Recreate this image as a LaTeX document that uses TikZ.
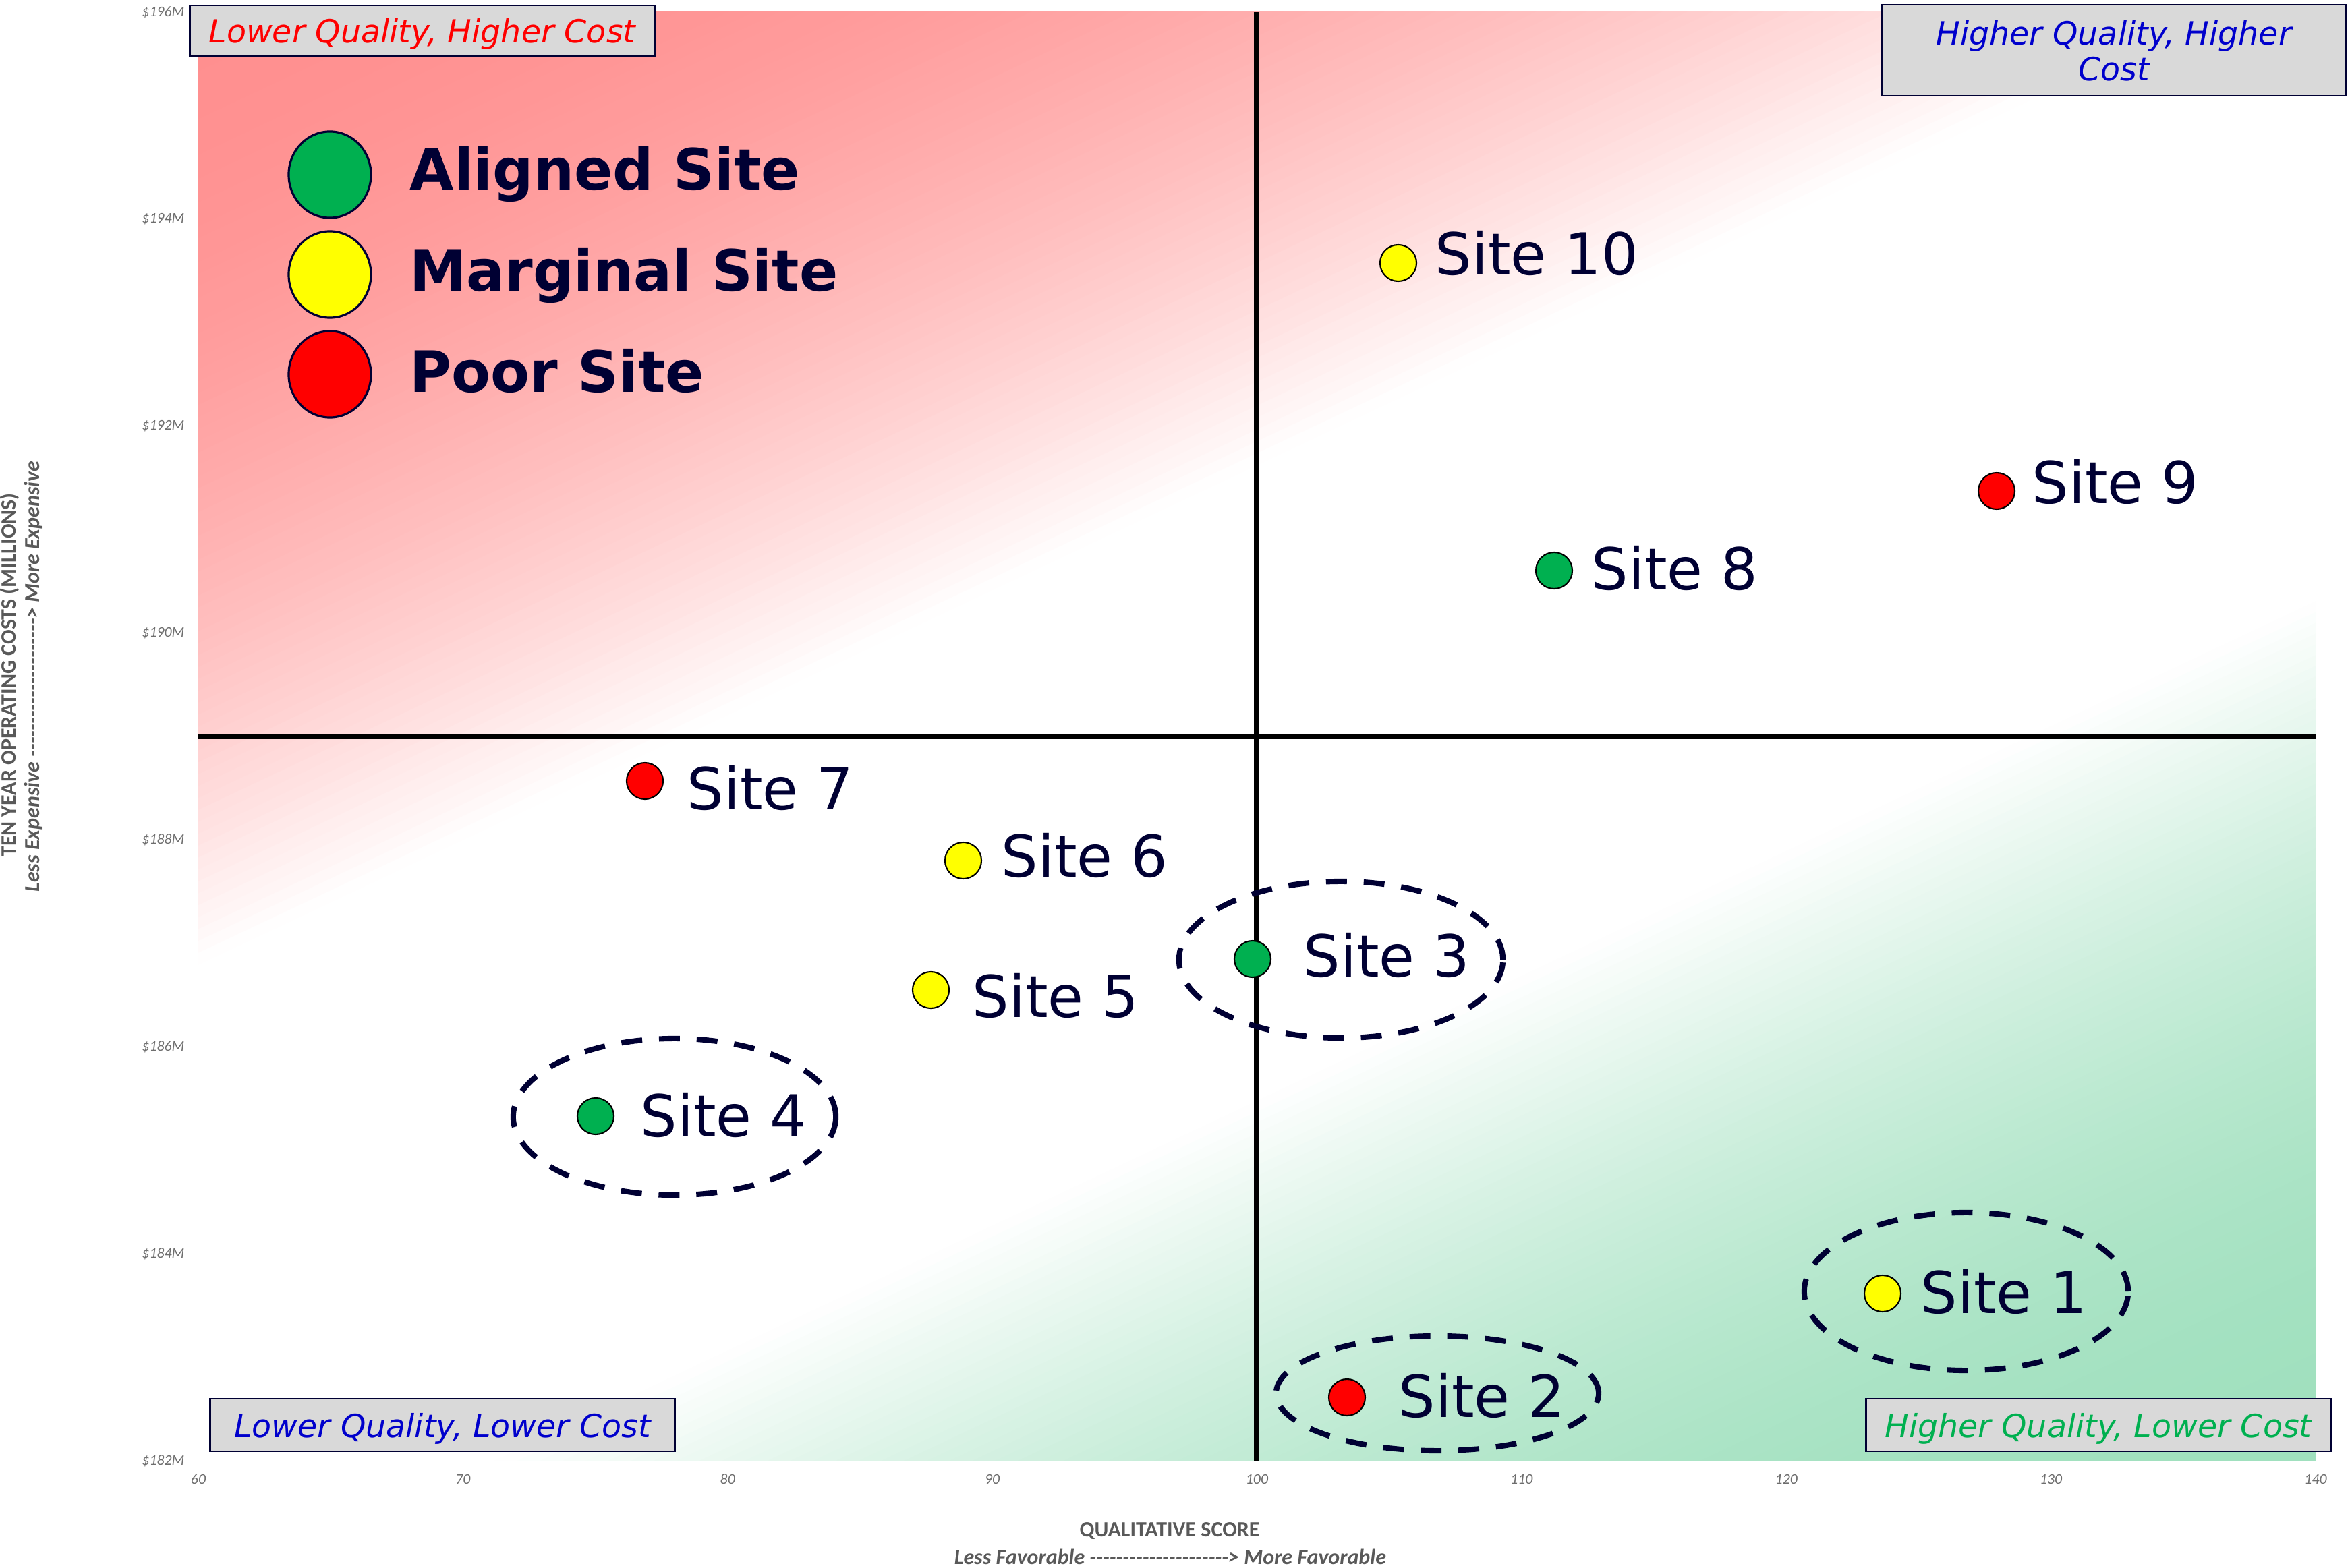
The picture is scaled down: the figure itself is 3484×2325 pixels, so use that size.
\documentclass[tikz,border=0pt]{standalone}
\usepackage{fontspec}
\usetikzlibrary{shapes.geometric}
\newfontfamily\vfont{DejaVu Sans}
\newfontfamily\cfont{Carlito}
\definecolor{navy}{HTML}{000033}
\definecolor{redc}{RGB}{255,143,143}
\definecolor{greenc}{RGB}{160,224,190}
\definecolor{dotgreen}{HTML}{00B050}
\definecolor{dotyellow}{HTML}{FFFF00}
\definecolor{dotred}{HTML}{FF0000}
\definecolor{boxgray}{HTML}{D9D9D9}
\definecolor{axgray}{HTML}{595959}
\definecolor{tickgray}{HTML}{6E6E6E}
\definecolor{qblue}{HTML}{0000CC}
\definecolor{qgreen}{HTML}{00B050}
\definecolor{qred}{HTML}{FF0000}
\newcommand\myhy{-\kern0pt}
\newcommand\myrun{\myhy\myhy\myhy\myhy\myhy\myhy\myhy\myhy\myhy\myhy\myhy\myhy\myhy\myhy\myhy\myhy\myhy\myhy\myhy\myhy\myhy}
\begin{document}
\begin{tikzpicture}[x=0.01cm, y=-0.01cm,
  sitedot/.style={circle, draw=black, line width=0.6pt, minimum size=0.54cm, inner sep=0pt},
  sitelabel/.style={anchor=base west, inner sep=0pt, text=navy, font=\vfont\fontsize{24.4}{29}\selectfont},
  legdot/.style={ellipse, draw=navy, line width=0.9pt, minimum width=1.22cm, minimum height=1.28cm, inner sep=0pt},
  leglabel/.style={anchor=base west, inner sep=0pt, text=navy, font=\vfont\bfseries\fontsize{24}{29}\selectfont},
  ring/.style={ellipse, draw=navy, line width=2.3pt, dash pattern=on 8.8pt off 7.1pt, inner sep=0pt},
  cornerbox/.style={draw=navy, line width=0.8pt, fill=boxgray, inner sep=0pt, minimum width=6.88cm, align=center, text height=12pt, text depth=1.5pt, font=\vfont\itshape\fontsize{13.5}{15.1}\selectfont},
  ytick/.style={anchor=east, inner sep=0pt, text=tickgray, font=\cfont\itshape\fontsize{6.2}{7}\selectfont},
  xtick/.style={anchor=center, inner sep=0pt, text=tickgray, font=\cfont\itshape\fontsize{6.2}{7}\selectfont},
  axtitle/.style={inner sep=0pt, text=axgray, font=\cfont\bfseries\fontsize{9.1}{11}\selectfont},
  axsub/.style={inner sep=0pt, text=axgray, font=\cfont\bfseries\itshape\fontsize{9.1}{11}\selectfont},
  quadline/.style={line width=2.3pt, draw=black}
]
\useasboundingbox (0,0) rectangle (3484,2325);
\fill[white] (0,0) rectangle (3484,2325);
% background gradients
\begin{scope}
\clip (294,18) rectangle (3433,2166);
\foreach \k in {0,...,79}{
  \pgfmathsetmacro\T{1419-15.975*\k}
  \pgfmathsetmacro\f{100*(1-(1-(\k+0.5)/80)^2)}
  \pgfmathsetmacro\px{0.4268*\T}
  \pgfmathsetmacro\py{0.9043*\T}
  \fill[redc!\f!white] ({\px-5426},{\py+2561}) -- ({\px+5426},{\py-2561}) -- ({\px+5426-2561},{\py-2561-5426}) -- ({\px-5426-2561},{\py+2561-5426}) -- cycle;
}
\foreach \k in {0,...,79}{
  \pgfmathsetmacro\S{2272+14.4*\k}
  \pgfmathsetmacro\f{100*(1-(1-(\k+0.5)/80)^2)}
  \pgfmathsetmacro\px{0.4268*\S}
  \pgfmathsetmacro\py{0.9043*\S}
  \fill[greenc!\f!white] ({\px-5426},{\py+2561}) -- ({\px+5426},{\py-2561}) -- ({\px+5426+2561},{\py-2561+5426}) -- ({\px-5426+2561},{\py+2561+5426}) -- cycle;
}
\end{scope}
% quadrant lines
\coordinate (vtop) at (1863,18);
\coordinate (vbot) at (1863,2166);
\coordinate (hleft) at (294,1092);
\coordinate (hright) at (3433,1092);
\draw[quadline] (vtop) -- (vbot);
\draw[quadline] (hleft) -- (hright);
% ticks
\foreach \v in {60,70,...,140}
  \node[xtick] (xt\v) at ({294+(\v-60)*39.2375},2193) {\v};
\foreach \c in {182,184,...,196}
  \node[ytick] (yt\c) at (274,{18+(196-\c)*153.43}) {\$\c M};
% axis titles
\node[axtitle] (xtitle) at (1734,2270) {QUALITATIVE SCORE};
\node[axsub] (xsub) at (1735,2308) {Less Favorable \myrun> More Favorable};
\node[axtitle, rotate=90] (ytitle) at (14,1001) {TEN YEAR OPERATING COSTS (MILLIONS)};
\node[axsub, rotate=90] (ysub) at (50,1003) {Less Expensive \myrun> More Expensive};
% rings
\node[ring, minimum width=4.78cm, minimum height=2.32cm] (r4) at (1000,1656) {};
\node[ring, minimum width=4.80cm, minimum height=2.32cm] (r3) at (1988,1423) {};
\node[ring, minimum width=4.78cm, minimum height=1.70cm] (r2) at (2131,2066) {};
\node[ring, minimum width=4.80cm, minimum height=2.34cm] (r1) at (2915,1915) {};
% sites
\node[sitedot, fill=dotyellow] (s10) at (2073,390) {};
\node[sitedot, fill=dotred] (s9) at (2960,728) {};
\node[sitedot, fill=dotgreen] (s8) at (2304,846) {};
\node[sitedot, fill=dotred] (s7) at (956,1158) {};
\node[sitedot, fill=dotyellow] (s6) at (1428,1276) {};
\node[sitedot, fill=dotyellow] (s5) at (1380,1468) {};
\node[sitedot, fill=dotgreen] (s4) at (883,1655) {};
\node[sitedot, fill=dotgreen] (s3) at (1857,1422) {};
\node[sitedot, fill=dotred] (s2) at (1997,2072) {};
\node[sitedot, fill=dotyellow] (s1) at (2791,1918) {};
\node[sitelabel] (l10) at (2127,408) {Site 10};
\node[sitelabel] (l9) at (3012,747) {Site 9};
\node[sitelabel] (l8) at (2359,874) {Site 8};
\node[sitelabel] (l7) at (1018,1200) {Site 7};
\node[sitelabel] (l6) at (1484,1300) {Site 6};
\node[sitelabel] (l5) at (1441,1508) {Site 5};
\node[sitelabel] (l4) at (949,1685) {Site 4};
\node[sitelabel] (l3) at (1932,1448) {Site 3};
\node[sitelabel] (l2) at (2073,2101) {Site 2};
\node[sitelabel] (l1) at (2847,1947) {Site 1};
% legend
\node[legdot, fill=dotgreen] (lg1) at (489,259) {};
\node[leglabel] (lt1) at (607,282) {Aligned Site};
\node[legdot, fill=dotyellow] (lg2) at (489,407) {};
\node[leglabel] (lt2) at (607,432) {Marginal Site};
\node[legdot, fill=dotred] (lg3) at (489,555) {};
\node[leglabel] (lt3) at (607,582) {Poor Site};
% corner boxes
\node[cornerbox, minimum height=0.75cm, text=qred] (b1) at (626,45.5) {Lower Quality, Higher Cost};
\node[cornerbox, minimum height=1.35cm, text height=27.1pt, text=qblue] (b2) at (3134,74.5) {Higher Quality, Higher\\Cost};
\node[cornerbox, minimum height=0.78cm, text=qblue] (b3) at (656,2113) {Lower Quality, Lower Cost};
\node[cornerbox, minimum height=0.78cm, text=qgreen] (b4) at (3111,2113) {Higher Quality, Lower Cost};
\end{tikzpicture}
\end{document}
